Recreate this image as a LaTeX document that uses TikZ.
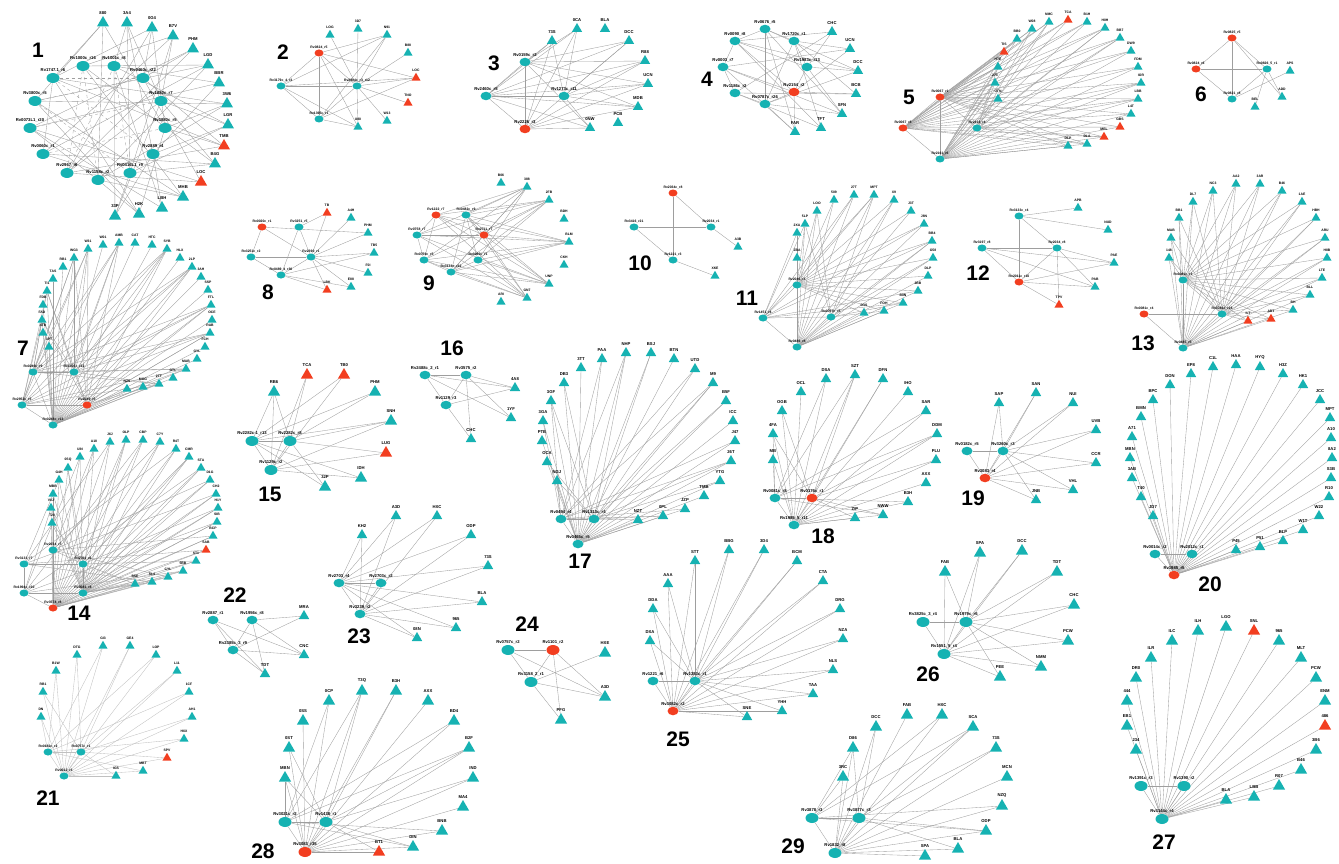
\documentclass[tikz,border=0pt]{standalone}
\usepackage{fontspec}
\setmainfont{Liberation Sans}
\usetikzlibrary{shapes.geometric}
\definecolor{tl}{RGB}{22,178,178}
\definecolor{rd}{RGB}{242,62,32}
\definecolor{eg}{RGB}{158,158,158}
\pgfdeclarelayer{bg}
\pgfsetlayers{bg,main}
\newcommand\Hubset[2]{\foreach \x/\y/\lb/\cl [count=\k] in {#2}{\node[hub,fill=\cl,label={[lab]above:\lb}] (#1h\k) at (\x,\y) {};}}
\newcommand\Triset[2]{\foreach \x/\y/\lb/\cl [count=\k] in {#2}{\node[tri,fill=\cl,label={[lab]above:\lb}] (#1t\k) at (\x,\y) {};}}
\newcommand\Fan[3]{\begin{pgfonlayer}{bg}\foreach \j in {1,...,#3}{\draw[edge] (#1h#2) -- (#1t\j);}\end{pgfonlayer}}
\newcommand\Patt[6]{\begin{pgfonlayer}{bg}\foreach \i in {#2}{\foreach \j in {1,...,#3}{\pgfmathtruncatemacro\rr{mod(\i*5+\j*3+#6,#5)}\ifnum\rr<#4\relax\draw[edge] (#1h\i) -- (#1t\j);\fi}}\end{pgfonlayer}}
\newcommand\Hh[2]{\begin{pgfonlayer}{bg}\foreach \ua/\ub in {#2}{\draw[edge] (#1h\ua) -- (#1h\ub);}\end{pgfonlayer}}
\newcommand\Hhd[2]{\begin{pgfonlayer}{bg}\foreach \ua/\ub in {#2}{\draw[edge,dashed] (#1h\ua) -- (#1h\ub);}\end{pgfonlayer}}
\newcommand\Ht[2]{\begin{pgfonlayer}{bg}\foreach \ua/\ub in {#2}{\draw[edge] (#1h\ua) -- (#1t\ub);}\end{pgfonlayer}}
\begin{document}
\begin{tikzpicture}[x=1pt,y=-1pt,
 hub/.style={ellipse,draw=none,minimum width=13pt,minimum height=10pt,inner sep=0pt},
 tri/.style={regular polygon,regular polygon sides=3,draw=none,minimum size=14pt,inner sep=0pt},
 lab/.style={font=\fontsize{4.2}{4.2}\selectfont\bfseries,inner sep=0.6pt,text=black},
 edge/.style={draw=eg,line width=0.35pt},
 num/.style={font=\fontsize{21}{21}\selectfont\bfseries,inner sep=0pt},
 S/.style={hub/.append style={minimum width=9pt,minimum height=7pt},tri/.append style={minimum size=10.5pt},lab/.append style={font=\fontsize{3.4}{3.4}\selectfont\bfseries}},
 M/.style={hub/.append style={minimum width=11pt,minimum height=8.5pt},tri/.append style={minimum size=12pt}}]
\useasboundingbox (0,0) rectangle (1339,864);

% ---------- panel 1
\Hubset{p1}{53/78/Rv1747.1\_r6/tl, 83/66/Rv1000c\_r16/tl, 114/66/Rv1001c\_r8/tl, 143/78/Rv0460c\_r22/tl, 35/101/Rv3800c\_r5/tl, 161/101/Rv1880c\_r7/tl, 30/128/Rv0073L1\_r20/tl, 165/128/Rv3880c\_r5/tl, 43/154/Rv0060c\_r1/tl, 153/154/Rv2889\_r4/tl, 67/173/Rv2967\_r6/tl, 98/180/Rv1158c\_r2/tl, 130/173/Rv0416L1\_r9/tl}
\Triset{p1}{103/23/880/tl, 127/23/3A4/tl, 152/28/0G4/tl, 173/36/B7V/tl, 193/49/PHM/tl, 208/65/LGD/tl, 219/83/BBR/tl, 227/104/3W6/tl, 228/125/LGR/tl, 224/146/TMB/rd, 215/164/B4G/tl, 201/182/LOC/rd, 183/197/MHB/tl, 162/208/LBH/tl, 139/214/H2K/tl, 115/216/33P/tl}
\Patt{p1}{1,...,13}{16}{2}{7}{0}
\Hhd{p1}{1/4,5/4,7/6,2/12,3/13,9/8,11/3,1/10,5/13,2/11}
\Hh{p1}{1/9,7/12,6/11}
\node[num] (n1) at (38,50) {1};

% ---------- panel 2
\begin{scope}[S]
\Hubset{p2}{319/53/Rv0824\_r5/rd, 281/86/Rv3179c\_4\_r3/tl, 319/119/Rv1395c\_r1/tl, 357/86/Rv2904c\_r3\_r12/tl}
\Triset{p2}{330/35/LOG/tl, 358/29/3D7/tl, 387/35/N91/tl, 408/53/B88/tl, 416/78/LOC/rd, 408/103/TNO/rd, 387/121/W13/tl, 358/127/U80/tl}
\end{scope}
\Fan{p2}{4}{8}
\Patt{p2}{1,2,3}{8}{2}{5}{1}
\Hh{p2}{1/2,1/3,2/3,2/4,1/4,3/4}
\node[num] (n2) at (283,52) {2};

% ---------- panel 3
\begin{scope}[M]
\Hubset{p3}{525/62/Rv0159c\_r2/tl, 486/96/Rv2460c\_r5/tl, 564/96/Rv1273c\_r11/tl, 525/129/Rv2226\_r3/rd}
\Triset{p3}{552/41/73S/tl, 577/29/0CA/tl, 605/29/BLA/tl, 629/41/DCC/tl, 645/61/R88/tl, 648/84/UCN/tl, 638/107/MDB/tl, 618/123/PCB/tl, 590/128/0NW/tl}
\end{scope}
\Patt{p3}{1,...,4}{9}{4}{5}{0}
\Hh{p3}{1/2,2/4,1/4,2/3}
\node[num] (n3) at (494,63) {3};

% ---------- panel 4
\begin{scope}[M]
\Hubset{p4}{765/29/Rv0676\_r5/tl, 735/41/Rv0090\_r8/tl, 794/41/Rv1720c\_r1/tl, 723/67/Rv0003\_r7/tl, 807/67/Rv1983c\_r13/tl, 735/93/Rv1186c\_r2/tl, 794/92/Rv2154\_r2/rd, 765/104/Rv0787c\_r26/tl}
\Triset{p4}{832/32/CHC/tl, 850/49/UCN/tl, 858/71/DCC/tl, 856/94/BCB/tl, 842/114/SFN/tl, 821/128/TFT/tl, 795/132/FAR/tl}
\end{scope}
\Patt{p4}{1,...,8}{7}{3}{7}{2}
\Hh{p4}{1/2,1/3,2/4,4/6,6/8,8/7,3/5,5/7,2/7,1/8,3/8,2/5,4/7}
\node[num] (n4) at (707,79) {4};

% ---------- panel 5
\begin{scope}[S]
\Hubset{p5}{940/97/Rv0067\_r1/rd, 903/128/Rv0067\_r8/rd, 977/128/Rv2416\_r4/tl, 940/159/Rv2161\_r6/tl}
\Triset{p5}{1004/52/TIS/rd, 998/67/HTE/tl, 995/83/273/tl, 998/99/UTN/tl, 1017/39/BB0/tl, 1032/29/W08/tl, 1049/22/NMC/tl, 1068/20/TCA/rd, 1087/22/B1H/tl, 1105/28/H0H/tl, 1120/38/BB7/tl, 1131/51/DW9/tl, 1138/67/FDM/tl, 1141/83/IOR/tl, 1138/99/LBB/tl, 1131/114/L4T/tl, 1120/127/GBS/rd, 1104/137/MEL/rd, 1087/144/DLA/tl, 1068/146/DLP/tl}
\end{scope}
\Fan{p5}{1}{20}\Fan{p5}{2}{20}\Fan{p5}{4}{20}
\Patt{p5}{3}{20}{2}{4}{0}
\Hh{p5}{1/2,2/4,1/4,1/3,3/4}
\node[num] (n5) at (909,97) {5};

% ---------- panel 6
\begin{scope}[S]
\Hubset{p6}{1232/38/Rv0825\_r5/rd, 1196/69/Rv0824\_r6/rd, 1267/69/Rv0826\_5\_r1/tl, 1232/99/Rv0821\_r8/tl}
\Triset{p6}{1290/71/APS/tl, 1282/97/ADD/tl, 1255/107/BEL/tl}
\end{scope}
\Hh{p6}{1/2,1/3,1/4,2/3,2/4,3/4}
\Ht{p6}{1/2,4/1,3/3,3/2}
\node[num] (n6) at (1201,94) {6};

% ---------- panel 7
\begin{scope}[S]
\Hubset{p7}{33/372/Rv0249c\_r9/tl, 74/372/Rv1305c\_r22/tl, 22/405/Rv2952c\_r5/tl, 87/405/Rv2249\_r5/rd, 53/425/Rv0248c\_r13/tl}
\Triset{p7}{74/258/WG3/tl, 63/267/RB1/tl, 53/279/TAS/tl, 47/291/TI1/tl, 43/305/FDB/tl, 42/320/FAD/tl, 43/333/ATB/tl, 49/347/3PT/tl, 88/249/W31/tl, 103/245/W01/tl, 119/243/AMB/tl, 135/243/CAT/tl, 152/245/HTC/tl, 167/249/SYB/tl, 180/258/HLX/tl, 192/267/2LP/tl, 201/277/3AH/tl, 208/290/SSP/tl, 211/305/FTL/tl, 212/320/OCE/tl, 210/333/RAB/tl, 205/347/FCH/tl, 197/359/GYL/tl, 186/369/MAB/tl, 173/378/GTL/tl, 159/384/2TT/tl, 143/387/MGG/tl, 127/389/NZS/tl}
\end{scope}
\Fan{p7}{5}{28}
\Patt{p7}{1,...,4}{28}{2}{5}{3}
\Hh{p7}{1/2,1/3,3/5,3/4,2/4,5/4,1/5}
\node[num] (n7) at (23,348) {7};

% ---------- panel 8
\begin{scope}[S]
\Hubset{p8}{262/227/Rv0020c\_r1/rd, 299/227/Rv3251\_r5/tl, 251/257/Rv3251c\_r2/tl, 311/257/Rv2390\_r1/tl, 281/275/Rv0489\_4\_r36/tl}
\Triset{p8}{327/213/TB/rd, 351/218/A4H/tl, 368/233/PHM/tl, 374/253/TB5/tl, 368/273/F0I/tl, 351/287/E88/tl, 327/290/LBK/rd}
\end{scope}
\Fan{p8}{4}{7}
\Ht{p8}{2/1,5/6,5/7,5/4,1/3}
\Hh{p8}{1/3,1/4,2/4,2/5,3/5,4/5,3/4}
\node[num] (n8) at (268,292) {8};

% ---------- panel 9
\begin{scope}[S]
\Hubset{p9}{436/215/Rv1222\_r7/rd, 466/215/Rv0482c\_r9/tl, 484/235/Rv2711\_r7/rd, 417/235/Rv0758\_r7/tl, 424/260/Rv0759c\_r5/tl, 478/260/Rv3260c\_r1/tl, 451/272/Rv3133c\_r32/tl}
\Triset{p9}{501/183/B06/tl, 527/187/388/tl, 549/200/2FB/tl, 564/219/BDH/tl, 569/242/BLM/tl, 564/265/CKH/tl, 549/284/UNP/tl, 527/298/GN7/tl, 501/302/ARI/tl}
\end{scope}
\Patt{p9}{1,...,7}{9}{3}{5}{1}
\Hh{p9}{1/4,1/5,1/3,2/3,2/6,4/5,4/3,5/7,6/7,7/3,2/7}
\node[num] (n9) at (429,283) {9};

% ---------- panel 10
\begin{scope}[S]
\Hubset{p10}{673/193/Rv2034c\_r8/rd, 711/227/Rv2034\_r1/tl, 673/260/Rv1221\_r3/tl, 634/227/Rv3416\_r21/tl}
\Triset{p10}{738/247/A3B/tl, 715/276/XKE/tl}
\end{scope}
\Hh{p10}{1/2,1/3,4/2,4/3}
\Ht{p10}{2/1,3/2}
\node[num] (n10) at (640,263) {10};

% ---------- panel 11
\begin{scope}[S]
\Hubset{p11}{797/285/Rv2046\_r3/tl, 763/318/Rv1451\_r4/tl, 831/317/Rv0757c\_r5/tl, 797/347/Rv0486\_r8/tl}
\Triset{p11}{797/258/ZBA/tl, 797/233/2XA/tl, 805/224/5LP/tl, 817/211/LOO/tl, 834/200/509/tl, 854/195/27T/tl, 874/195/MPT/tl, 894/200/X9/tl, 911/211/J3T/tl, 924/224/J8N/tl, 932/241/BB4/tl, 933/258/G58/tl, 928/276/DLP/tl, 918/291/2BB/tl, 903/303/B0N/tl, 884/311/FOH/tl, 864/313/D3S/tl}
\end{scope}
\Fan{p11}{4}{17}\Fan{p11}{1}{17}
\Patt{p11}{2,3}{17}{2}{4}{1}
\Hh{p11}{1/2,1/4,2/4,3/4,2/3}
\node[num] (n11) at (747,298) {11};

% ---------- panel 12
\begin{scope}[S]
\Hubset{p12}{982/248/Rv3197\_r8/tl, 1019/216/Rv3133c\_r4/tl, 1057/248/Rv2034\_r8/tl, 1019/282/Rv2011c\_r10/rd}
\Triset{p12}{1078/208/APB/tl, 1108/230/NUD/tl, 1114/263/PAE/tl, 1095/287/PAB/tl, 1059/305/TPV/rd}
\end{scope}
\Ht{p12}{2/1,2/2,3/3,3/4,4/5,4/3,1/3,3/5,4/4,1/4}
\Hh{p12}{1/3,1/4,2/3,2/4,3/4}
\node[num] (n12) at (978,273) {12};

% ---------- panel 13
\begin{scope}[S]
\Hubset{p13}{1183/280/Rv0081c\_r3/tl, 1144/314/Rv0081c\_r4/rd, 1222/314/Rv3786c\_r18/tl, 1183/348/Rv0485\_r5/tl}
\Triset{p13}{1169/258/148/tl, 1171/238/MAB/tl, 1179/218/BB1/tl, 1193/202/DL7/tl, 1213/191/NC3/tl, 1236/184/AA2/tl, 1260/184/3AR/tl, 1282/191/B46/tl, 1302/202/1AE/tl, 1316/218/HBH/tl, 1325/238/ARU/tl, 1327/258/H8B/tl, 1322/278/LTE/tl, 1310/295/BLL/tl, 1293/310/BH/tl, 1271/319/ART/rd, 1248/321/ILT/rd}
\end{scope}
\Fan{p13}{4}{17}\Fan{p13}{1}{17}
\Patt{p13}{3}{17}{1}{3}{0}
\Hh{p13}{1/4,2/3,3/4,2/4,1/3}
\node[num] (n13) at (1143,343) {13};

% ---------- panel 14
\begin{scope}[S]
\Hubset{p14}{53/550/Rv2034\_r7/tl, 24/564/Rv3133\_r7/tl, 83/564/Rv2011\_r6/tl, 24/593/Rv1994c\_r20/tl, 83/593/Rv0081\_r8/tl, 53/608/Rv3574\_r8/rd}
\Triset{p14}{52/523/T20/tl, 51/508/V0J/tl, 53/494/MBB/tl, 59/480/G4H/tl, 68/468/0SQ/tl, 80/457/UIN/tl, 94/449/A18/tl, 110/442/J6J/tl, 126/440/OLP/tl, 143/440/CBP/tl, 160/442/C7Y/tl, 176/449/R4T/tl, 189/457/CMR/tl, 201/468/STA/tl, 210/480/D1G/tl, 216/494/CH2/tl, 218/508/H1Y/tl, 217/522/SIB/tl, 213/536/BCP/tl, 206/550/SAB/rd, 196/561/ST1/tl, 183/571/5BB/tl, 168/577/CYL/tl, 152/582/SL4/tl, 135/584/BSE/tl}
\end{scope}
\Fan{p14}{6}{25}\Fan{p14}{5}{25}
\Patt{p14}{1,...,4}{25}{1}{4}{2}
\Hh{p14}{2/3,2/4,1/6,3/5,4/5,4/6,5/6,1/3}
\node[num] (n14) at (79,613) {14};

% ---------- panel 15
\Hubset{p15}{252/441/Rv2282c-1\_r13/tl, 290/441/Rv2282c\_r8/tl, 271/470/Rv1129c\_r2/tl}
\Triset{p15}{274/392/RB6/tl, 307/375/TCA/rd, 344/375/TB0/rd, 375/392/PHM/tl, 391/421/SNH/tl, 386/453/LUG/rd, 361/478/IDH/tl, 325/487/32P/tl}
\Patt{p15}{1,2,3}{8}{3}{4}{0}
\Hh{p15}{1/2,1/3,2/3}
\node[num] (n15) at (270,494) {15};

% ---------- panel 16
\begin{scope}[M]
\Hubset{p16}{425/375/Rv2488c\_2\_r1/tl, 466/375/Rv3575\_r2/tl, 446/405/Rv1129\_r3/tl}
\Triset{p16}{515/388/4A8/tl, 511/418/1YF/tl, 471/439/CHC/tl}
\end{scope}
\Hh{p16}{1/2,1/3,2/3}
\Ht{p16}{1/1,1/2,2/1,2/2,2/3,3/1,3/3}
\node[num] (n16) at (452,348) {16};

% ---------- panel 17
\begin{scope}[M]
\Hubset{p17}{561/519/Rv0494\_r4/tl, 594/519/Rv1313c\_r4/tl, 578/544/Rv0465c\_r5/tl}
\Triset{p17}{557/481/NGJ/tl, 547/462/OCA/tl, 542/441/PTB/tl, 543/421/3GA/tl, 551/401/3GF/tl, 564/383/DB3/tl, 581/368/3TT/tl, 602/359/PAA/tl, 626/353/NHP/tl, 651/353/BSJ/tl, 674/359/BTN/tl, 695/369/UTD/tl, 713/383/M9/tl, 726/401/B5F/tl, 733/421/ICC/tl, 735/441/J47/tl, 731/461/26T/tl, 720/481/YTG/tl, 704/496/TMB/tl, 685/509/JZP/tl, 663/516/0PL/tl, 638/520/NZT/tl}
\end{scope}
\Fan{p17}{3}{22}
\Patt{p17}{1,2}{22}{2}{4}{0}
\Hh{p17}{1/2,1/3,2/3}
\node[num] (n17) at (580,561) {17};

% ---------- panel 18
\begin{scope}[M]
\Hubset{p18}{775/498/Rv0081c\_r8/tl, 812/498/Rv0176c\_r1/rd, 794/525/Rv1985\_5\_r11/tl}
\Triset{p18}{773/460/MB/tl, 773/434/4FA/tl, 782/411/OGB/tl, 801/392/OCL/tl, 826/379/DSA/tl, 855/375/SZT/tl, 883/379/DFN/tl, 908/392/IHO/tl, 926/411/SAR/tl, 937/434/DDM/tl, 936/460/PLU/tl, 926/483/AXX/tl, 908/502/B3H/tl, 883/515/NWW/tl, 855/518/ZIP/tl}
\end{scope}
\Fan{p18}{3}{15}
\Patt{p18}{1,2}{15}{2}{4}{1}
\Hh{p18}{1/2,1/3,2/3}
\node[num] (n18) at (823,536) {18};

% ---------- panel 19
\begin{scope}[M]
\Hubset{p19}{967/451/Rv0182c\_r5/tl, 1003/451/Rv3260c\_r3/tl, 985/478/Rv3083\_r4/rd}
\Triset{p19}{999/403/SAP/tl, 1036/393/SAN/tl, 1073/403/NUI/tl, 1096/430/UVB/tl, 1096/463/CCR/tl, 1073/490/VHL/tl, 1036/500/JNB/tl}
\end{scope}
\Patt{p19}{1,2,3}{7}{2}{3}{0}
\Hh{p19}{1/2,1/3,2/3}
\node[num] (n19) at (973,498) {19};

% ---------- panel 20
\begin{scope}[M]
\Hubset{p20}{1155/554/Rv0014c\_r2/tl, 1192/554/Rv2012c\_r1/tl, 1174/575/Rv1985\_r5/rd}
\Triset{p20}{1153/516/JD7/tl, 1141/497/T40/tl, 1132/478/3AB/tl, 1130/458/MBN/tl, 1132/437/A71/tl, 1141/417/BMN/tl, 1153/400/BPC/tl, 1170/385/DON/tl, 1191/374/EP8/tl, 1213/367/C1L/tl, 1236/365/HAA/tl, 1260/367/HYQ/tl, 1283/374/H3Z/tl, 1303/385/HK1/tl, 1320/400/JCC/tl, 1330/418/MPT/tl, 1331/438/A10/tl, 1332/458/8A2/tl, 1331/478/S3B/tl, 1329/497/R10/tl, 1319/516/W22/tl, 1303/530/W1T/tl, 1283/541/BLP/tl, 1260/547/P51/tl, 1236/550/P45/tl}
\end{scope}
\Fan{p20}{3}{25}
\Patt{p20}{1,2}{25}{1}{3}{0}
\Hh{p20}{1/2,1/3,2/3}
\node[num] (n20) at (1210,584) {20};

% ---------- panel 21
\begin{scope}[S,edge/.append style={draw=eg!65}]
\Hubset{p21}{48/752/Rv0182c\_r2/tl, 81/752/Rv0757c\_r1/tl, 64/776/Rv0012\_r3/tl}
\Triset{p21}{41/717/DN/tl, 43/692/RB1/tl, 56/671/B1W/tl, 77/655/DTG/tl, 103/646/GI3/tl, 130/646/GE4/tl, 156/655/LOP/tl, 177/671/L11/tl, 189/692/1CF/tl, 192/717/AH1/tl, 184/739/HXX/tl, 167/758/SPV/rd, 143/771/MBT/tl, 116/776/IGS/tl}
\Fan{p21}{3}{14}
\Patt{p21}{1,2}{14}{1}{2}{0}
\Hh{p21}{1/2,1/3,2/3}
\end{scope}
\node[num] (n21) at (48,798) {21};

% ---------- panel 22
\begin{scope}[M]
\Hubset{p22}{213/620/Rv2887\_r1/tl, 252/620/Rv1956c\_r8/tl, 233/650/Rv2385c\_3\_r9/tl}
\Triset{p22}{304/616/MRA/tl, 304/655/CNC/tl, 265/674/TDT/tl}
\end{scope}
\Ht{p22}{1/2,1/3,2/1,2/2,2/3,3/1,3/2,3/3}
\Hh{p22}{1/3,2/3}
\node[num] (n22) at (235,595) {22};

% ---------- panel 23
\begin{scope}[M]
\Hubset{p23}{339/583/Rv2703\_r4/tl, 381/583/Rv2703c\_r2/tl, 360/614/Rv3239\_r2/tl}
\Triset{p23}{362/535/KH2/tl, 396/516/A3D/tl, 437/516/HXC/tl, 471/535/ODP/tl, 488/566/73S/tl, 482/602/BLA/tl, 456/628/965/tl, 417/638/08N/tl}
\end{scope}
\Patt{p23}{1,2,3}{8}{2}{3}{1}
\Hh{p23}{1/2,1/3,2/3}
\node[num] (n23) at (359,636) {23};

% ---------- panel 24
\Hubset{p24}{508/650/Rv0757c\_r2/tl, 553/650/Rv1101\_r2/rd, 531/682/Rv3158\_2\_r1/tl}
\Triset{p24}{605/653/HXE/tl, 605/697/A3D/tl, 561/720/PFG/tl}
\Hh{p24}{1/2,1/3,2/3}
\Ht{p24}{1/2,2/2,2/3,3/1,3/2,3/3}
\node[num] (n24) at (527,624) {24};

% ---------- panel 25
\begin{scope}[M]
\Hubset{p25}{653/681/Rv1221\_r6/tl, 695/681/Rv1353c\_r1/tl, 673/711/Rv3082c\_r2/rd}
\Triset{p25}{653/609/DDA/tl, 650/641/DXA/tl, 668/584/AAA/tl, 695/561/STT/tl, 729/550/BBG/tl, 764/550/3D4/tl, 797/561/BCM/tl, 823/581/CTA/tl, 840/609/DRG/tl, 843/639/NZA/tl, 833/670/NLS/tl, 813/694/TAA/tl, 782/711/YHH/tl, 747/717/SNE/tl}
\end{scope}
\Fan{p25}{3}{14}\Fan{p25}{2}{14}
\Patt{p25}{1}{14}{1}{3}{0}
\Hh{p25}{1/2,1/3,2/3}
\node[num] (n25) at (678,739) {25};

% ---------- panel 26
\Hubset{p26}{923/622/Rv3825c\_3\_r4/tl, 966/622/Rv1979c\_r6/tl, 944/654/Rv1551\_5\_r4/tl}
\Triset{p26}{945/572/FAB/tl, 980/553/SPA/tl, 1022/551/DCC/tl, 1057/572/TDT/tl, 1074/605/CHC/tl, 1068/641/PCW/tl, 1041/667/NMM/tl, 1000/677/PEE/tl}
\Patt{p26}{1,2,3}{8}{2}{3}{0}
\Hh{p26}{1/2,1/3,2/3}
\node[num] (n26) at (928,674) {26};

% ---------- panel 27
\Hubset{p27}{1141/786/Rv1391c\_r3/tl, 1184/786/Rv1390\_r2/tl, 1162/819/Rv3144c\_r4/tl}
\Triset{p27}{1136/750/234/tl, 1127/726/EB1/tl, 1127/701/444/tl, 1136/678/DR0/tl, 1151/658/ILR/tl, 1172/641/ILC/tl, 1198/631/ILH/tl, 1226/627/LGO/tl, 1254/631/SNL/rd, 1279/641/965/tl, 1301/658/MLT/tl, 1316/678/PCW/tl, 1325/701/ENM/tl, 1325/726/486/rd, 1316/750/3B6/tl, 1301/770/B46/tl, 1279/786/R07/tl, 1254/797/LBB/tl, 1226/800/BLA/tl}
\Fan{p27}{3}{19}
\Patt{p27}{1,2}{19}{1}{3}{0}
\Hh{p27}{1/2,1/3,2/3}
\node[num] (n27) at (1164,842) {27};

% ---------- panel 28
\Hubset{p28}{285/822/Rv3021c\_r2/tl, 326/822/Rv1438\_r1/tl, 305/852/Rv3083\_r35/rd}
\Triset{p28}{285/778/MBN/tl, 289/748/0ST/tl, 303/721/0SS/tl, 329/701/0CP/tl, 362/691/T3Q/tl, 396/691/B3H/tl, 428/701/AXX/tl, 454/721/BD4/tl, 469/748/B2F/tl, 473/778/IND/tl, 463/807/MA4/tl, 442/831/BNB/tl, 413/847/DIN/tl, 379/852/BT1/rd}
\Fan{p28}{3}{14}
\Patt{p28}{1,2}{14}{2}{4}{0}
\Hh{p28}{1/2,1/3,2/3}
\node[num] (n28) at (263,851) {28};

% ---------- panel 29
\Hubset{p29}{812/818/Rv3878\_r3/tl, 859/818/Rv3877c\_r3/tl, 835/853/Rv1832\_r8/tl}
\Triset{p29}{843/777/3RC/tl, 853/748/D86/tl, 876/727/DCC/tl, 907/715/FAB/tl, 942/715/HXC/tl, 973/727/SCA/tl, 996/748/73S/tl, 1007/777/MCN/tl, 1002/806/NZQ/tl, 986/831/ODP/tl, 958/849/BLA/tl, 925/856/SPA/tl}
\Fan{p29}{3}{12}
\Patt{p29}{1,2}{12}{2}{4}{1}
\Hh{p29}{1/2,1/3,2/3}
\node[num] (n29) at (793,846) {29};
\end{tikzpicture}
\end{document}
